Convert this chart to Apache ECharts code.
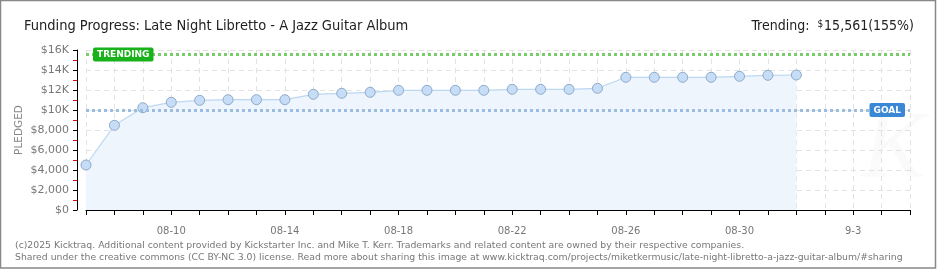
<!DOCTYPE html>
<html><head><meta charset="utf-8">
<script src="https://cdn.jsdelivr.net/npm/echarts@6/dist/echarts.min.js"></script>
<style>html,body{margin:0;padding:0;background:#fff}#c{width:940px;height:270px}</style>
</head><body><div id="c"></div>
<script>
const categories = ['08-07','08-08','08-09','08-10','08-11','08-12','08-13','08-14','08-15','08-16','08-17','08-18','08-19','08-20','08-21','08-22','08-23','08-24','08-25','08-26','08-27','08-28','08-29','08-30','08-31','9-1','9-2','9-3','9-4','9-5'];
const pledged = [4500, 8470, 10230, 10770, 10970, 11030, 11030, 11030, 11570, 11670, 11770, 11970, 11970, 11970, 11970, 12070, 12070, 12070, 12170, 13270, 13270, 13270, 13270, 13370, 13470, 13500];
const goal = 10000;
const trending = 15561;
const trendingPct = 155;
const titleText = 'Funding Progress: Late Night Libretto - A Jazz Guitar Album';
const footer1 = '(c)2025 Kicktraq. Additional content provided by Kickstarter Inc. and Mike T. Kerr. Trademarks and related content are owned by their respective companies.';
const footer2 = 'Shared under the creative commons (CC BY-NC 3.0) license. Read more about sharing this image at www.kicktraq.com/projects/miketkermusic/late-night-libretto-a-jazz-guitar-album/#sharing';

const fmtY = v => v >= 10000 ? '$' + (v / 1000) + 'K' : '$' + v.toLocaleString('en-US');
const TF = 'DejaVu Sans Condensed';
const chart = echarts.init(document.getElementById('c'), null, {renderer: 'canvas'});
chart.setOption({
  animation: false,
  backgroundColor: '#fff',
  title: [
    {text: titleText, left: 19, top: 14, textStyle: {fontFamily: TF, fontSize: 14.5, fontWeight: 'normal', color: '#222'}},
    {text: '{a|Trending:  }{s|$}{a|' + trending.toLocaleString('en-US') + '(' + trendingPct + '%)}', right: 21, top: 14,
     textStyle: {fontWeight: 'normal', rich: {
       a: {fontFamily: TF, fontSize: 14, fontWeight: 'normal', color: '#222'},
       s: {fontFamily: TF, fontSize: 10, fontWeight: 'normal', color: '#222', verticalAlign: 'top', padding: [0, 1, 5, 0]}
     }}},
    {text: footer1, left: 10, top: 236, textStyle: {fontFamily: 'DejaVu Sans', fontSize: 9.3, fontWeight: 'normal', color: '#777'}},
    {text: footer2, left: 10, top: 248, textStyle: {fontFamily: 'DejaVu Sans', fontSize: 9.3, fontWeight: 'normal', color: '#777'}}
  ],
  graphic: [
    {type: 'rect', shape: {x: 0.5, y: 0.5, width: 935, height: 267.5}, style: {fill: 'none', stroke: '#888', lineWidth: 1.5}, silent: true},
    {type: 'text', left: 862, top: 105, z: -10, style: {text: 'K', font: 'italic 95px "Liberation Serif"', fill: '#fafafa'}, silent: true}
  ],
  grid: {left: 86, right: 30, top: 50, bottom: 60},
  xAxis: {
    type: 'category', data: categories, boundaryGap: false, offset: 10,
    axisLine: {lineStyle: {color: '#000', width: 1}},
    axisTick: {interval: 0, length: 5, lineStyle: {color: '#000'}},
    axisLabel: {interval: i => i >= 3 && (i - 3) % 4 === 0, margin: 6, color: '#777', fontFamily: 'DejaVu Sans', fontSize: 10},
    splitLine: {show: true, interval: 0, lineStyle: {color: '#e2e2e2', type: [5, 4]}}
  },
  yAxis: {
    type: 'value', min: 0, max: 16000, interval: 2000, offset: 9,
    name: 'PLEDGED', nameLocation: 'middle', nameRotate: 90, nameGap: 52, nameMoveOverlap: false,
    nameTextStyle: {color: '#888', fontFamily: 'DejaVu Sans', fontSize: 10.5},
    axisLine: {show: true, lineStyle: {color: '#000'}},
    axisTick: {show: true, length: 4, lineStyle: {color: '#000'}},
    minorTick: {show: true, splitNumber: 2, length: 4, lineStyle: {color: '#e00'}},
    axisLabel: {formatter: fmtY, margin: 8, color: '#777', fontFamily: 'DejaVu Sans', fontSize: 11},
    splitLine: {show: true, lineStyle: {color: '#e2e2e2', type: [5, 4]}}
  },
  series: [{
    type: 'line', data: pledged,
    symbol: 'circle', symbolSize: 10,
    lineStyle: {color: '#bcd7f2', width: 1.2},
    itemStyle: {color: '#c6ddf7', borderColor: '#8fa9c8', borderWidth: 1},
    areaStyle: {color: '#eef5fd', opacity: 1},
    z: 2,
    markLine: {
      silent: true, symbol: 'none', z: 5,
      data: [
        {yAxis: trending, lineStyle: {color: '#79cc69', type: [3, 3], width: 3},
         label: {show: true, formatter: 'TRENDING', position: 'insideStartTop', distance: [7, -7],
                 backgroundColor: '#19b21a', color: '#fff', fontFamily: 'DejaVu Sans', fontWeight: 'bold', fontSize: 9, padding: [3, 4, 2, 4], borderRadius: 2}},
        {yAxis: goal, lineStyle: {color: '#9dbde0', type: [3, 3], width: 3},
         label: {show: true, formatter: 'GOAL', position: 'insideEndTop', distance: [5, -7],
                 backgroundColor: '#3a87d6', color: '#fff', fontFamily: 'DejaVu Sans', fontWeight: 'bold', fontSize: 9, padding: [3, 4, 2, 4], borderRadius: 2}}
      ]
    }
  }]
});
</script></body></html>
